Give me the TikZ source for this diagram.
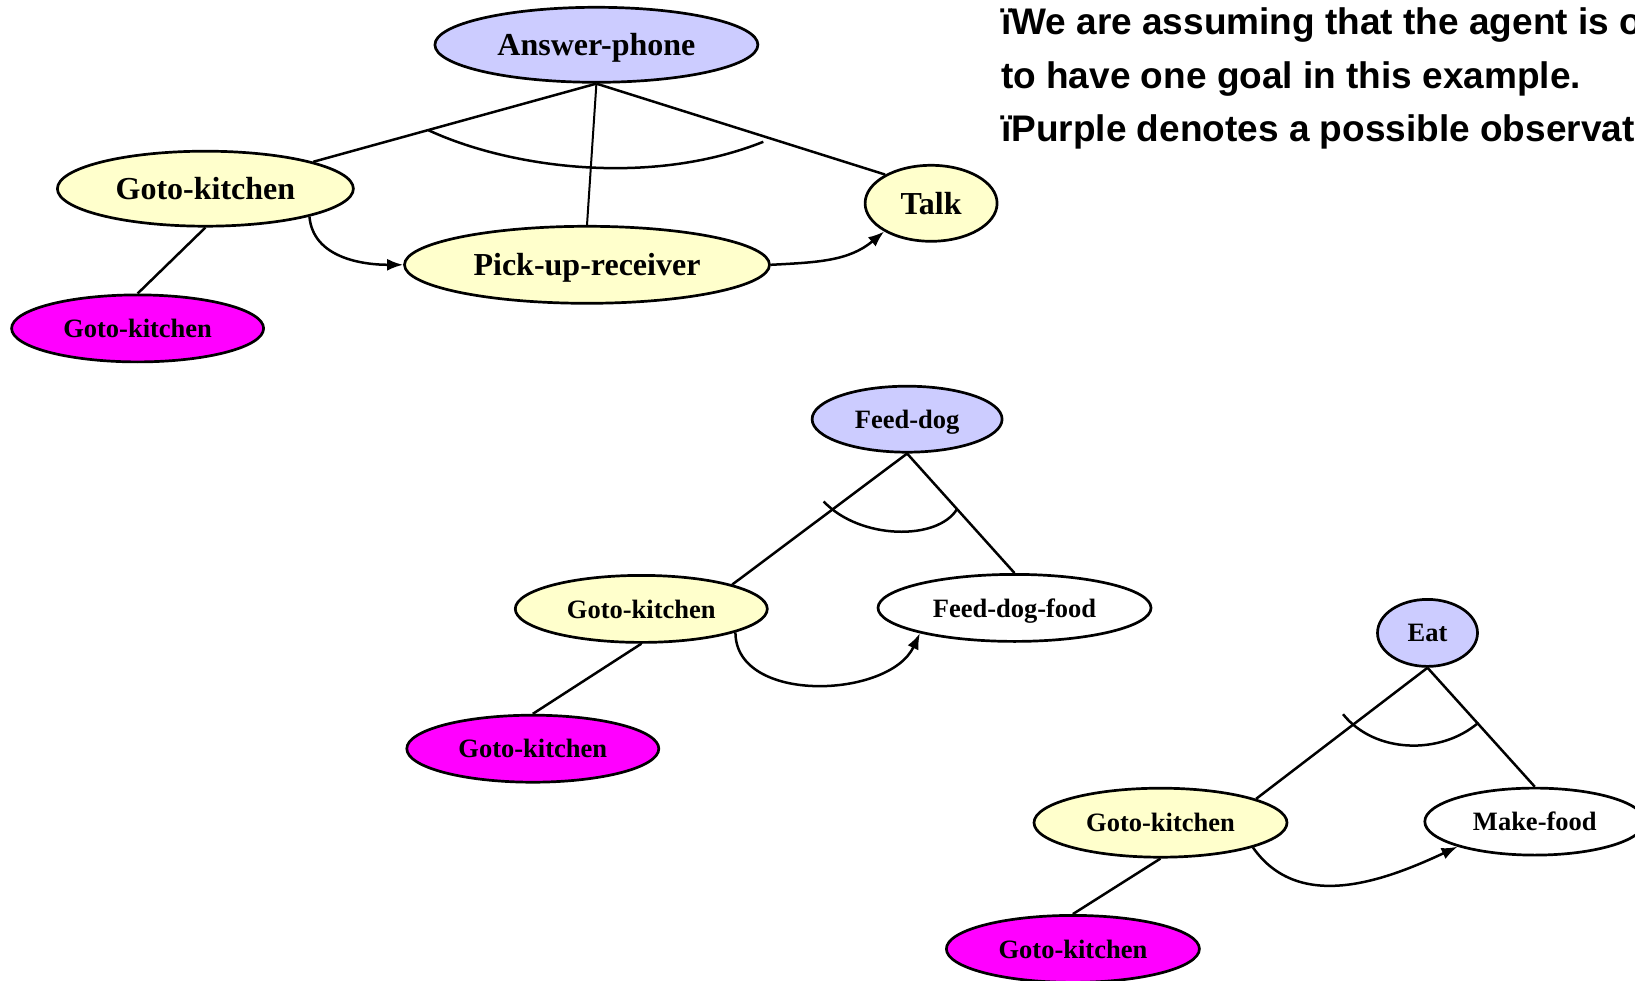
\documentclass[tikz,border=0pt]{standalone}
\usepackage{fontspec}
\setmainfont{Liberation Serif}
\setsansfont{Liberation Sans}
\usetikzlibrary{shapes.geometric,arrows.meta}

\definecolor{goalblue}{HTML}{CCCCFF}
\definecolor{stepyellow}{HTML}{FFFFCC}
\definecolor{obsmagenta}{HTML}{FF00FF}

\tikzset{
  oval/.style={ellipse, draw=black, line width=2.7pt, inner sep=0pt, text depth=0pt,
               font=\bfseries\fontsize{26.5}{30}\selectfont},
  bigtext/.style={font=\bfseries\fontsize{32}{36}\selectfont},
  goal/.style={oval, fill=goalblue},
  substep/.style={oval, fill=stepyellow},
  observed/.style={oval, fill=obsmagenta},
  action/.style={oval, fill=white},
  link/.style={line width=2.5pt},
  order/.style={line width=2.5pt, -{Latex[length=16pt,width=12pt]}},
  andarc/.style={line width=2.5pt},
  note/.style={anchor=base west, inner sep=0pt,
               font=\sffamily\bfseries\fontsize{37}{40}\selectfont}
}

\begin{document}
\begin{tikzpicture}[x=1pt,y=1pt]
\useasboundingbox (0,0) rectangle (1635,-981);
\clip (0,0) rectangle (1635,-981);

% --- Answer-phone plan ---
\node[goal,bigtext,minimum width=323pt,minimum height=75pt] (ap) at (596.4,-44.8) {Answer-phone};
\node[substep,bigtext,minimum width=296pt,minimum height=75pt] (gk1) at (205.4,-188.7) {Goto-kitchen};
\node[substep,bigtext,minimum width=132pt,minimum height=76pt] (talk) at (931.1,-203.3) {Talk};
\node[substep,bigtext,minimum width=365pt,minimum height=77pt] (pur) at (587,-264.8) {Pick-up-receiver};
\node[observed,minimum width=252pt,minimum height=67pt] (gkm1) at (137.6,-328.4) {Goto-kitchen};

\draw[link] (ap.south) -- (gk1.14);
\draw[link,line width=2pt] (ap.south) -- (pur.north);
\draw[link] (ap.south) -- (talk.148);
\draw[andarc] (428.6,-130.3) .. controls (510,-168) and (650,-187) .. (763.3,-141.8);
\draw[link] (gk1.south) -- (gkm1.north);
\draw[order] (gk1.-15) to[out=-85,in=180] (pur.west);
\draw[order] (pur.east) to[out=3,in=220] (talk.-149);

% --- Feed-dog plan ---
\node[goal,minimum width=190pt,minimum height=66pt] (fd) at (907.1,-419.2) {Feed-dog};
\node[substep,minimum width=252pt,minimum height=67pt] (gk2) at (641.3,-608.9) {Goto-kitchen};
\node[action,minimum width=273pt,minimum height=67pt] (fdf) at (1014.5,-607.9) {Feed-dog-food};
\node[observed,minimum width=252pt,minimum height=67pt] (gkm2) at (532.8,-748.7) {Goto-kitchen};

\draw[link] (fd.south) -- (gk2.15);
\draw[link] (fd.south) -- (fdf.north);
\draw[andarc] (823.7,-501.5) .. controls (860,-540) and (938,-541) .. (957.2,-508.8);
\draw[link] (gk2.south) -- (gkm2.north);
\draw[order] (gk2.-14) to[out=-90,in=-115] (fdf.-165);

% --- Eat plan ---
\node[goal,minimum width=100pt,minimum height=67pt] (eat) at (1427.5,-632.9) {Eat};
\node[substep,minimum width=253pt,minimum height=69pt] (gk3) at (1160.5,-822.7) {Goto-kitchen};
\node[action,minimum width=220pt,minimum height=67pt] (mf) at (1534.8,-821.6) {Make-food};
\node[observed,minimum width=253pt,minimum height=67pt] (gkm3) at (1072.9,-948.9) {Goto-kitchen};

\draw[link] (eat.south) -- (gk3.14);
\draw[link] (eat.south) -- (mf.north);
\draw[andarc] (1343,-714.2) .. controls (1375,-754) and (1441,-755) .. (1478.5,-722.6);
\draw[link] (gk3.south) -- (gkm3.north);
\draw[order] (gk3.-15) to[out=-55,in=205] (mf.-162);

% --- notes ---
\node[note] (n1) at (1001,-35) {ïWe are assuming that the agent is o};
\node[note] (n2) at (1001,-88.5) {to have one goal in this example.};
\node[note] (n3) at (1001,-142) {ïPurple denotes a possible observat};
\end{tikzpicture}
\end{document}
